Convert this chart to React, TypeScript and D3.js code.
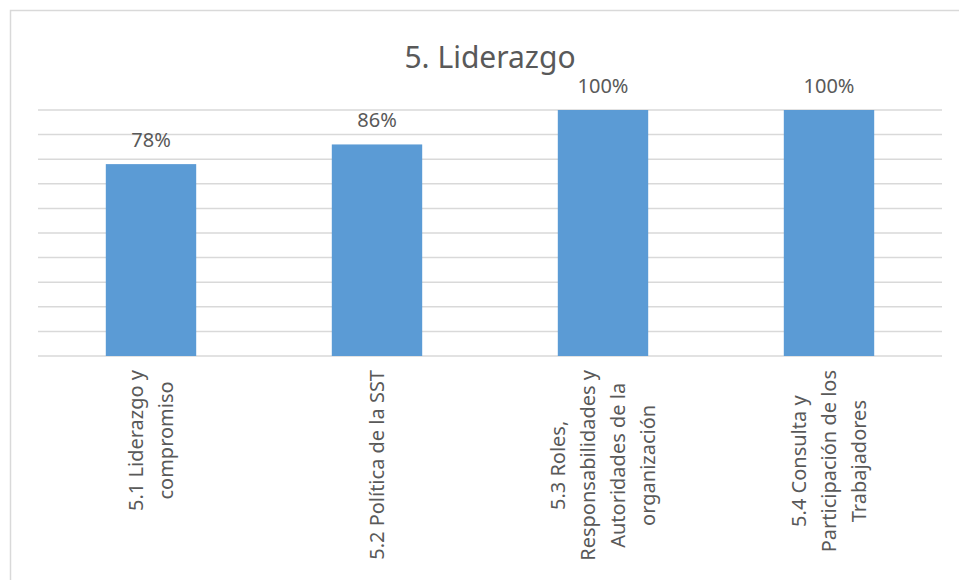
import React, { useEffect, useRef } from "react";
import * as d3 from "d3";

const categories: string[][] = [
  ["5.1 Liderazgo y", "compromiso"],
  ["5.2 Política de la SST"],
  ["5.3 Roles,", "Responsabilidades y", "Autoridades de la", "organización"],
  ["5.4 Consulta y", "Participación de los", "Trabajadores"],
];
const values: number[] = [0.78, 0.86, 1.0, 1.0];
const valueLabels: string[] = ["78%", "86%", "100%", "100%"];
const title = "5. Liderazgo";

const W = 959;
const H = 580;
const FONT = "'Noto Sans', sans-serif";
const TEXT = "#595959";

export default function App() {
  const ref = useRef<SVGSVGElement>(null);

  useEffect(() => {
    const svg = d3.select(ref.current);
    svg.selectAll("*").remove();

    const ids = categories.map((_, i) => String(i));
    const x = d3.scaleBand<string>().domain(ids).range([38, 942]).paddingInner(0.6).paddingOuter(0.3);
    const y = d3.scaleLinear().domain([0, 1]).range([356, 110]);

    svg.append("rect").attr("width", W).attr("height", H).attr("fill", "#fff");
    svg
      .append("rect")
      .attr("x", 10.5)
      .attr("y", 10.5)
      .attr("width", W + 20)
      .attr("height", H + 20)
      .attr("fill", "none")
      .attr("stroke", "#D9D9D9")
      .attr("stroke-width", 1.5);

    svg
      .append("text")
      .attr("x", 490)
      .attr("y", 68)
      .attr("text-anchor", "middle")
      .attr("font-family", FONT)
      .attr("font-size", 30)
      .attr("fill", TEXT)
      .text(title);

    const ticks = d3.range(0, 11).map((d) => d / 10);
    svg
      .append("g")
      .selectAll("line")
      .data(ticks)
      .join("line")
      .attr("x1", 38)
      .attr("x2", 942)
      .attr("y1", (d) => y(d))
      .attr("y2", (d) => y(d))
      .attr("stroke", "#D9D9D9")
      .attr("stroke-width", 1.5);

    svg
      .append("g")
      .selectAll("rect")
      .data(values)
      .join("rect")
      .attr("x", (_, i) => x(String(i))!)
      .attr("width", x.bandwidth())
      .attr("y", (d) => y(d))
      .attr("height", (d) => y(0) - y(d))
      .attr("fill", "#5B9BD5");

    svg
      .append("g")
      .selectAll("text")
      .data(values)
      .join("text")
      .attr("x", (_, i) => x(String(i))! + x.bandwidth() / 2)
      .attr("y", (d) => y(d) - 17)
      .attr("text-anchor", "middle")
      .attr("font-family", FONT)
      .attr("font-size", 20)
      .attr("fill", TEXT)
      .text((_, i) => valueLabels[i]);

    const lineGap = 30;
    categories.forEach((lines, i) => {
      const cx = x(String(i))! + x.bandwidth() / 2;
      const g = svg.append("g");
      const texts = lines.map((l) =>
        g
          .append("text")
          .attr("text-anchor", "middle")
          .attr("font-family", FONT)
          .attr("font-size", 20)
          .attr("fill", TEXT)
          .text(l)
      );
      const maxLen = d3.max(texts, (t) => (t.node() as SVGTextElement).getComputedTextLength()) || 0;
      const cy = 370 + maxLen / 2;
      const n = lines.length;
      texts.forEach((t, j) => {
        const lx = cx + (j - (n - 1) / 2) * lineGap + 7;
        t.attr("transform", `translate(${lx},${cy}) rotate(-90)`);
      });
    });
  }, []);

  return (
    <svg
      ref={ref}
      width={W}
      height={H}
      style={{ position: "absolute", left: 0, top: 0, display: "block" }}
    />
  );
}
